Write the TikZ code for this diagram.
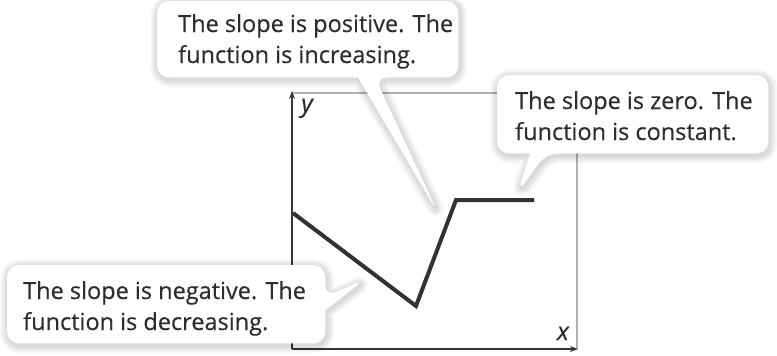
\documentclass[tikz,border=0pt]{standalone}
\usepackage{fontspec}
\setmainfont{Open Sans}[FakeBold=0.35]
\usetikzlibrary{arrows.meta}
\definecolor{txt}{RGB}{45,45,45}
\definecolor{axiscol}{RGB}{55,55,55}
\definecolor{framecol}{RGB}{178,178,178}
\definecolor{curvecol}{RGB}{50,50,50}
\begin{document}
\begin{tikzpicture}[x=1pt,y=-1pt,
  box/.style={rectangle, inner sep=0pt, draw=none},
  calltext/.style={inner sep=0pt, align=left, text=txt, font=\fontsize{23.5}{31}\selectfont, anchor=base west},
  callB/.style n args={4}{insert path={(#1.north) [rounded corners=12pt] -- (#1.north east) -- (#1.south east) -- (#4) -- (#3) [sharp corners] -- (#2) [rounded corners=12pt] -- (#1.south west) -- (#1.north west) -- cycle}},
  callR/.style n args={4}{insert path={(#1.north) [rounded corners=12pt] -- (#1.north east) -- (#2) -- (#3) [sharp corners] -- (#4) [rounded corners=12pt] -- (#1.south east) -- (#1.south west) -- (#1.north west) -- cycle}},
  shadowline/.style={draw=black, draw opacity=0.018, line join=round, transform canvas={xshift=1pt,yshift=-2pt}},
  axisline/.style={draw=axiscol, line width=1.4pt, -{Stealth[length=8pt,width=6pt]}},
  frameline/.style={draw=framecol, line width=1.2pt},
  graphline/.style={draw=curvecol, line width=4pt},
  axlabel/.style={text=txt, font=\fontsize{25}{25}\selectfont\itshape, inner sep=0pt, anchor=base},
]
\useasboundingbox (0,0) rectangle (777,356);

% axes and frame
\coordinate (O) at (292,349);
\coordinate (Ytop) at (292,91);
\coordinate (Xend) at (578,349);
\coordinate (FL) at (292,93);
\coordinate (FR) at (577,93);
\coordinate (FB) at (577,349);
\draw[frameline] (FL) -- (FR) -- (FB);
\draw[axisline] (O) -- (Ytop);
\draw[axisline] (O) -- (Xend);
\node[axlabel] (ylab) at (307,112) {y};
\node[axlabel] (xlab) at (563,340) {x};

% graph
\coordinate (c1) at (293,213);
\coordinate (c2) at (416,306);
\coordinate (c3) at (456,200);
\coordinate (c4) at (534,200);
\draw[graphline] (c1) -- (c2) -- (c3) -- (c4);

% callout boxes
\node[box, minimum width=301pt, minimum height=76pt, anchor=north west] (pos) at (157,1) {};
\node[box, minimum width=271pt, minimum height=78pt, anchor=north west] (zero) at (497,75) {};
\node[box, minimum width=318pt, minimum height=78pt, anchor=north west] (neg) at (7,265) {};

\coordinate (tbx1) at (358,0);
\coordinate (tbx2) at (375,0);
\coordinate (tb1) at (pos.south -| tbx1);
\coordinate (tb2) at (pos.south -| tbx2);
\coordinate (ttip) at (438,213);

\coordinate (rbx1) at (530,0);
\coordinate (rbx2) at (546,0);
\coordinate (rb1) at (zero.south -| rbx1);
\coordinate (rb2) at (zero.south -| rbx2);
\coordinate (rtip) at (518,192);

\coordinate (nby1) at (0,297);
\coordinate (nby2) at (0,310);
\coordinate (nb1) at (neg.east |- nby1);
\coordinate (nb2) at (neg.east |- nby2);
\coordinate (ntip) at (365,279);

% shadows
\foreach \w in {2,4,...,16}{
  \path[shadowline, line width=\w pt] [callB={pos}{tb1}{ttip}{tb2}];
  \path[shadowline, line width=\w pt] [callB={zero}{rb1}{rtip}{rb2}];
  \path[shadowline, line width=\w pt] [callR={neg}{nb1}{ntip}{nb2}];
}
% white callouts
\path[fill=white] [callB={pos}{tb1}{ttip}{tb2}];
\path[fill=white] [callB={zero}{rb1}{rtip}{rb2}];
\path[fill=white] [callR={neg}{nb1}{ntip}{nb2}];

% texts (anchor: baseline of the last line)
\node[calltext] (posT) at (178,63) {The slope is positive. The\\function is increasing.};
\node[calltext] (zeroT) at (515,140) {The slope is zero. The\\function is constant.};
\node[calltext] (negT) at (23,330) {The slope is negative. The\\function is decreasing.};
\end{tikzpicture}
\end{document}
